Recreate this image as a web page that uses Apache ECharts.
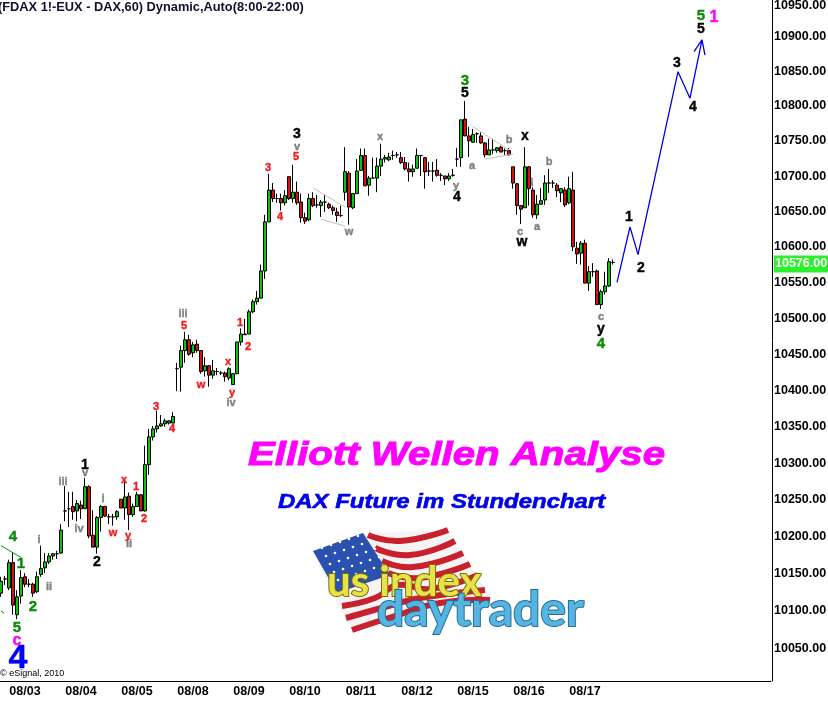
<!DOCTYPE html>
<html>
<head>
<meta charset="utf-8">
<title>DAX Future</title>
<script src="https://cdn.jsdelivr.net/npm/echarts@6/dist/echarts.min.js"></script>
<style>
  html, body { margin: 0; padding: 0; background: #fff; }
  #chart { width: 828px; height: 703px; }
</style>
</head>
<body>
<div id="chart"></div>
<script>
// hourly candles, one row per 14 bars (8:00-22:00 session)
const opens = [
  10122,10141,10129,10163,10093,10118,10144,10134,10134,10124,10147,10156,10164,10172,
  10175,10176,10233,10236,10239,10233,10241,10236,10266,10200,10184,10224,10239,10225,
  10225,10225,10249,10237,10253,10228,10239,10255,10233,10296,10334,10345,10349,10352,
  10353,10353,10428,10430,10453,10468,10450,10462,10453,10425,10432,10419,10424,10422,
  10422,10415,10406,10421,10465,10475,10476,10507,10521,10526,10564,10633,10678,10666,
  10666,10660,10697,10666,10675,10661,10639,10636,10666,10657,10656,10661,10658,10653,
  10647,10642,10675,10702,10653,10673,10706,10727,10685,10695,10695,10712,10722,10721,
  10727,10728,10724,10717,10708,10704,10709,10727,10724,10705,10705,10706,10699,10698,
  10694,10699,10722,10724,10779,10755,10746,10758,10755,10745,10728,10735,10734,10739,
  10734,10734,10711,10687,10656,10653,10711,10678,10643,10658,10664,10688,10688,10685,
  10674,10678,10660,10678,10596,10589,10603,10547,10563,10564,10517,10535,10543,10576
]
const highs = [
  10144,10145,10167,10176,10126,10153,10149,10141,10136,10151,10186,10176,10176,10176,
  10179,10215,10267,10259,10259,10248,10247,10278,10268,10234,10226,10241,10240,10229,
  10229,10234,10249,10275,10258,10243,10259,10256,10322,10345,10349,10370,10364,10359,
  10357,10368,10436,10460,10479,10475,10465,10468,10453,10444,10433,10440,10429,10425,
  10424,10430,10422,10465,10484,10497,10510,10524,10536,10573,10643,10701,10688,10673,
  10673,10678,10697,10714,10690,10673,10646,10673,10675,10671,10664,10671,10660,10656,
  10653,10656,10739,10705,10674,10722,10737,10737,10698,10724,10724,10744,10728,10731,
  10734,10732,10732,10725,10717,10714,10737,10727,10725,10718,10718,10722,10702,10698,
  10702,10708,10738,10778,10805,10768,10765,10760,10760,10746,10751,10751,10739,10741,
  10737,10738,10711,10688,10656,10739,10712,10682,10671,10681,10699,10708,10692,10688,
  10681,10682,10697,10704,10605,10606,10608,10571,10575,10566,10538,10563,10582,10580
]
const lows = [
  10117,10133,10126,10093,10087,10108,10130,10130,10117,10122,10144,10149,10161,10167,
  10168,10175,10219,10211,10221,10219,10222,10236,10196,10184,10175,10205,10225,10215,
  10213,10221,10237,10221,10207,10225,10239,10233,10232,10282,10329,10340,10348,10348,
  10351,10353,10397,10396,10436,10446,10444,10450,10421,10417,10403,10414,10419,10419,
  10410,10412,10406,10421,10460,10475,10476,10505,10517,10526,10553,10633,10661,10660,
  10649,10656,10664,10660,10657,10632,10630,10634,10654,10653,10640,10647,10651,10643,
  10633,10640,10663,10629,10651,10673,10705,10684,10670,10695,10675,10698,10717,10719,
  10721,10724,10715,10706,10690,10697,10709,10698,10680,10698,10690,10697,10691,10685,
  10691,10697,10711,10711,10755,10725,10745,10745,10744,10724,10728,10729,10731,10732,
  10728,10727,10680,10643,10630,10653,10656,10639,10637,10657,10657,10674,10681,10668,
  10661,10654,10658,10592,10574,10573,10547,10536,10556,10517,10511,10531,10542,10573
]
const closes = [
  10138,10141,10163,10106,10117,10143,10134,10134,10122,10144,10155,10164,10172,10175,
  10175,10207,10233,10236,10232,10243,10236,10266,10199,10184,10224,10239,10226,10225,
  10225,10232,10237,10252,10228,10239,10255,10233,10296,10334,10345,10349,10352,10356,
  10356,10362,10428,10453,10468,10448,10461,10453,10424,10432,10419,10425,10424,10422,
  10417,10428,10421,10465,10476,10476,10507,10521,10526,10564,10633,10678,10666,10666,
  10660,10670,10666,10675,10660,10639,10634,10666,10656,10657,10661,10661,10653,10649,
  10642,10642,10704,10654,10673,10705,10727,10684,10695,10695,10712,10722,10724,10725,
  10727,10728,10717,10708,10704,10708,10727,10727,10704,10705,10705,10699,10699,10694,
  10698,10699,10722,10778,10755,10748,10757,10758,10745,10728,10735,10735,10738,10732,
  10734,10728,10688,10656,10651,10711,10680,10643,10658,10663,10688,10688,10688,10677,
  10680,10657,10680,10598,10588,10603,10547,10563,10563,10517,10535,10543,10577,10576
]

const dayLabels = ['08/03','08/04','08/05','08/08','08/09','08/10','08/11','08/12','08/15','08/16','08/17']
const priceTicks = [10050,10100,10150,10200,10250,10300,10350,10400,10450,10500,10550,10600,10650,10700,10750,10800,10850,10900,10950]
const lastPrice = 10576

// forecast path, [bar index, price]
const forecastPath = [[154,10548],[157.25,10626],[159.25,10587],[169.25,10847],[172.25,10809],[175.25,10893]]
const arrowHead = [[173.25,10876],[175.25,10893],[176,10871]]

// hand drawn trend lines
const wedgeUpperA = [[78,10681],[86,10654]]
const wedgeLowerA = [[80,10637],[86,10627]]
const wedgeUpperB = [[118,10768],[127,10735]]
const wedgeLowerB = [[121,10722],[128,10729]]
const greenLine = [[0,10186],[5,10170]]
const greenLineLow = [[0,10098],[0.75,10095]]

// wave counts, [bar index, price, text]
const blackWaves = [[21,10296,'1'],[24,10164,'2'],[74,10758,'3'],[116,10816,'5'],[114,10668,'4'],[131,10754,'x'],[130.25,10605,'w'],[150,10483,'y'],[157,10640,'1'],[160,10568,'2'],[169,10859,'3'],[173,10796,'4'],[175,10909,'5']]
const greenWaves = [[3,10198,'4'],[5,10161,'1'],[4,10075,'5'],[8,10104,'2'],[116,10834,'3'],[150,10462,'4'],[175,10927,'5']]
const grayWaves = [[15.5,10273,'iii'],[21,10285,'v'],[19.5,10208,'iv'],[9.5,10194,'i'],[12,10130,'ii'],[25.5,10249,'i'],[32,10188,'ii'],[45.5,10504,'iii'],[57.5,10381,'iv'],[74,10739,'v'],[87,10619,'w'],[94.75,10754,'x'],[113.75,10684,'y'],[117.75,10712,'a'],[127,10749,'b'],[129.75,10619,'c'],[134,10626,'a'],[137,10718,'b'],[150,10500,'c'],[132.75,10688,'i']]
const redWaves = [[38.75,10375,'3'],[42.75,10345,'4'],[33.75,10266,'1'],[35.75,10222,'2'],[30.75,10275,'x'],[28,10203,'w'],[31.75,10199,'y'],[45.75,10487,'5'],[50,10406,'w'],[56.75,10437,'x'],[57.75,10394,'y'],[59.75,10491,'1'],[61.75,10458,'2'],[66.75,10709,'3'],[69.75,10640,'4'],[73.75,10725,'5']]
const magentaWaves = [[4,10058,'c'],[178.25,10925,'1']]
const blueWaves = [[4.25,10034,'4']]

const BAR_SLOTS = 193
const categories = []
for (let i = 0; i < BAR_SLOTS; i++) {
  categories.push((i - 6) % 14 === 0 && dayLabels[(i - 6) / 14] ? dayLabels[(i - 6) / 14] : '')
}
const candles = opens.map((o, i) => [o, closes[i], lows[i], highs[i]])

const FONT = '"Liberation Sans", Arial, sans-serif'

function lineSeries(data, color, width) {
  return {
    type: 'line', data, xAxisIndex: 1, symbol: 'none', silent: true, z: 3,
    lineStyle: { color, width }
  }
}
function waveSeries(data, color, size) {
  return {
    type: 'scatter', data, xAxisIndex: 1, symbolSize: 1, silent: true, z: 5,
    itemStyle: { color: 'transparent', opacity: 1 },
    label: {
      show: true, position: 'inside', color, fontSize: size, fontWeight: 'bold', fontFamily: FONT,
      opacity: 1, textBorderColor: color, textBorderWidth: 0.4,
      formatter: p => p.data[2]
    }
  }
}

// flag stripes for the logo, page pixels
const flagStripes = [
  [[368,535],[400,541],[448,530]],
  [[375,548],[410,555],[455,541]],
  [[382,561],[413,567],[463,553]],
  [[388,573],[420,578],[470,564]],
  [[342,606],[375,598],[398,585],[430,589],[478,575]],
  [[346,618],[385,607],[420,598],[485,590]],
  [[352,630],[395,616],[440,603],[490,600]]
]
const logo = [
  { type: 'polygon', z: 10, shape: { points: [[313,551],[363,533],[448,530],[492,600],[353,632],[337,603]] }, style: { fill: '#f4f4f4' } }
]
flagStripes.forEach(points => {
  logo.push({ type: 'polyline', z: 10, shape: { points, smooth: 0.5 }, style: { stroke: '#c8202c', lineWidth: 6, fill: null } })
})
logo.push({ type: 'polygon', z: 11, shape: { points: [[313,551],[363,533],[390,575],[337,593]] }, style: { fill: '#2a50b0' } })
for (let r = 0; r < 5; r++) {
  for (let c = 0; c < 6; c++) {
    logo.push({ type: 'circle', z: 11, shape: { cx: 322 + c * 9 + r * 4, cy: 548 - c * 3 + r * 8, r: 1.3 }, style: { fill: '#fff' } })
  }
}
logo.push(
  { type: 'text', z: 12, left: 326, top: 560, style: { text: 'us index', font: 'bold 42px "Lato", sans-serif', fill: '#e8e24a', stroke: '#7a7200', lineWidth: 2, shadowColor: 'rgba(0,0,0,0.4)', shadowBlur: 3, shadowOffsetY: 2 } },
  { type: 'text', z: 13, left: 376, top: 586, style: { text: 'daytrader', font: 'bold 48px "Lato", sans-serif', fill: '#56b4e0', stroke: '#1f6f9a', lineWidth: 2, shadowColor: 'rgba(0,0,0,0.4)', shadowBlur: 3, shadowOffsetY: 2 } }
)

const option = {
  animation: false,
  backgroundColor: '#fff',
  grid: { left: -1, width: 772, top: 0, bottom: 22, outerBoundsMode: 'none' },
  xAxis: [
    {
      type: 'category', data: categories, boundaryGap: true,
      axisLine: { lineStyle: { color: '#000', width: 1 } },
      axisTick: { show: false },
      axisLabel: { interval: 0, margin: 4, color: '#000', fontSize: 12.5, fontWeight: 'bold', fontFamily: FONT },
      splitLine: { show: false }
    },
    { type: 'value', min: -0.5, max: BAR_SLOTS - 0.5, show: false }
  ],
  yAxis: {
    type: 'log', logBase: 10, position: 'right', offset: 1, min: 10004.7, max: 10950.7,
    axisLine: { show: true, onZero: false, lineStyle: { color: '#000', width: 1 } },
    axisTick: { show: false },
    splitLine: { show: false },
    axisLabel: {
      customValues: priceTicks.concat([lastPrice]),
      margin: 2, align: 'left', color: '#000', fontSize: 12.5, fontWeight: 'bold', fontFamily: FONT,
      padding: [3, 0, 0, 0],
      formatter: v => {
        const p = Math.round(v)
        if (p === lastPrice) return '{tag|' + p.toFixed(2) + '}'
        if (p === 10950) return '{top|' + p.toFixed(2) + '}'
        return p.toFixed(2)
      },
      rich: {
        tag: { color: '#fff', backgroundColor: '#2df02d', fontSize: 12.5, fontWeight: 'bold', fontFamily: FONT, padding: [2, 1, 2, 1] },
        top: { color: '#000', fontSize: 12.5, fontWeight: 'bold', fontFamily: FONT, padding: [8, 0, 0, 0] }
      }
    }
  },
  series: [
    {
      type: 'candlestick', data: candles, barWidth: 3, silent: true, z: 2,
      itemStyle: { color: '#12c012', color0: '#d01414', borderColor: '#000', borderColor0: '#000', borderWidth: 1 }
    },
    lineSeries(forecastPath, '#0000e6', 1.3),
    lineSeries(arrowHead, '#0000e6', 1.3),
    lineSeries(wedgeUpperA, '#c8bcbc', 1),
    lineSeries(wedgeLowerA, '#c8bcbc', 1),
    lineSeries(wedgeUpperB, '#c8bcbc', 1),
    lineSeries(wedgeLowerB, '#c8bcbc', 1),
    lineSeries(greenLine, '#0a8a0a', 1),
    lineSeries(greenLineLow, '#0a8a0a', 1),
    waveSeries(blackWaves, '#000', 14),
    waveSeries(greenWaves, '#0a8a0a', 15),
    waveSeries(grayWaves, '#808080', 11),
    waveSeries(redWaves, '#f01c1c', 11),
    waveSeries(magentaWaves, '#ff00ff', 16),
    waveSeries(blueWaves, '#0000ff', 34)
  ],
  graphic: [
    { type: 'text', left: -2, top: 1, z: 20, style: { text: '(FDAX 1!-EUX - DAX,60) Dynamic,Auto(8:00-22:00)', font: 'bold 12.8px ' + FONT, fill: '#101030' } },
    { type: 'text', left: 0, top: 669, z: 20, style: { text: '\u00a9 eSignal, 2010', font: '9px ' + FONT, fill: '#000' } },
    { type: 'text', x: 248, y: 439, scaleX: 1.2, z: 20, style: { text: 'Elliott Wellen Analyse', font: 'italic bold 33.5px ' + FONT, fill: '#ff00ff', stroke: '#ff00ff', lineWidth: 1 } },
    { type: 'text', x: 278, y: 492, scaleX: 1.14, z: 20, style: { text: 'DAX Future im Stundenchart', font: 'italic bold 21px ' + FONT, fill: '#0000e8', stroke: '#0000e8', lineWidth: 0.6 } }
  ].concat(logo)
}

const chart = echarts.init(document.getElementById('chart'))
chart.setOption(option)
</script>
</body>
</html>
